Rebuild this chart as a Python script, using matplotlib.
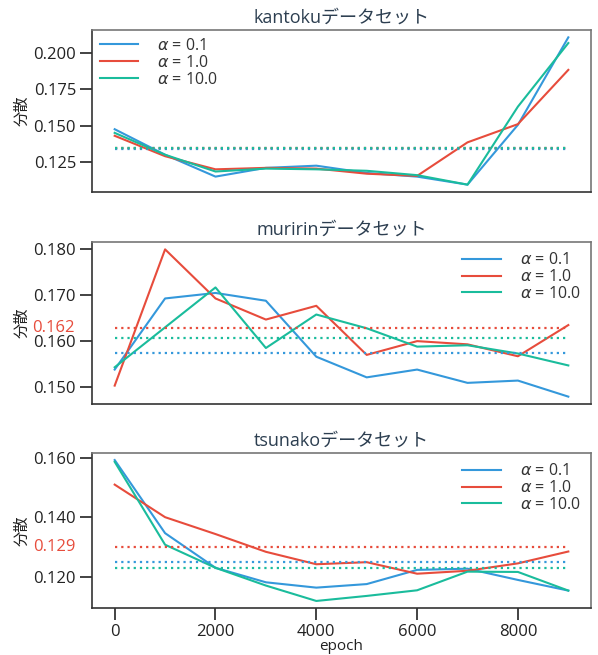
import math
import numpy as np
import matplotlib
matplotlib.use("Agg")
import matplotlib.pyplot as plt
import matplotlib.transforms as mtransforms

plt.rcParams['font.family'] = ['Open Sans', 'Noto Sans CJK JP', 'DejaVu Sans']

epochs = [0, 1000, 2000, 3000, 4000, 5000, 6000, 7000, 8000, 9000]
labels = [r"$\alpha$ = 0.1", r"$\alpha$ = 1.0", r"$\alpha$ = 10.0"]
titles = ["kantokuデータセット", "muririnデータセット", "tsunakoデータセット"]

kantoku_a01 = [0.1475, 0.1300, 0.1150, 0.1210, 0.1225, 0.1175, 0.1150, 0.1095, 0.1505, 0.2105]
kantoku_a1 = [0.1430, 0.1290, 0.1200, 0.1210, 0.1205, 0.1170, 0.1155, 0.1385, 0.1510, 0.1882]
kantoku_a10 = [0.1450, 0.1300, 0.1185, 0.1205, 0.1200, 0.1190, 0.1160, 0.1095, 0.1630, 0.2066]

muririn_a01 = [0.1538, 0.1693, 0.1705, 0.1688, 0.1566, 0.1521, 0.1538, 0.1509, 0.1514, 0.1479]
muririn_a1 = [0.1503, 0.1800, 0.1693, 0.1647, 0.1677, 0.1570, 0.1600, 0.1593, 0.1567, 0.1635]
muririn_a10 = [0.1543, 0.1630, 0.1717, 0.1585, 0.1658, 0.1628, 0.1588, 0.1591, 0.1573, 0.1547]

tsunako_a01 = [0.1594, 0.1347, 0.1230, 0.1181, 0.1163, 0.1175, 0.1223, 0.1227, 0.1189, 0.1153]
tsunako_a1 = [0.1511, 0.1401, 0.1344, 0.1284, 0.1242, 0.1249, 0.1210, 0.1220, 0.1245, 0.1285]
tsunako_a10 = [0.1588, 0.1308, 0.1230, 0.1170, 0.1118, 0.1135, 0.1154, 0.1217, 0.1216, 0.1153]

datasets = [
    [kantoku_a01, kantoku_a1, kantoku_a10],
    [muririn_a01, muririn_a1, muririn_a10],
    [tsunako_a01, tsunako_a1, tsunako_a10],
]
yticks = [
    [0.125, 0.150, 0.175, 0.200],
    [0.150, 0.160, 0.170, 0.180],
    [0.120, 0.140, 0.160],
]
legend_locs = ["upper left", "upper right", "upper right"]
show_red_mean = [False, True, True]

colors = ["#3498db", "#e74c3c", "#1abc9c"]
title_color = "#2c3e50"
text_color = "#222222"

W, H = 598, 655
fig = plt.figure(figsize=(W / 100, H / 100), dpi=100)
boxes = [(30, 192), (242, 404), (453, 608)]
left_px, right_px = 92, 591

axes = []
for i, (top, bot) in enumerate(boxes):
    ax = fig.add_axes([left_px / W, 1 - bot / H, (right_px - left_px) / W, (bot - top) / H])
    axes.append(ax)
    series = datasets[i]
    for s, c, lab in zip(series, colors, labels):
        ax.plot(epochs, s, color=c, lw=1.5, label=lab)
    for s, c in zip(series, colors):
        m = float(np.mean(s))
        ax.hlines(m, epochs[0], epochs[-1], colors=c, linestyles=(0, (1, 1.8)), lw=1.6)
    if show_red_mean[i]:
        m = float(np.mean(series[1]))
        trunc = math.floor(m * 1000) / 1000
        trans = mtransforms.blended_transform_factory(ax.transAxes, ax.transData)
        ax.text(-0.034, m, f"{trunc:.3f}", color=colors[1], ha="right", va="center",
                fontsize=12, transform=trans)
    ax.set_title(titles[i], color=title_color, fontsize=13, pad=5)
    ax.set_yticks(yticks[i])
    ax.set_yticklabels([f"{v:.3f}" for v in yticks[i]])
    ax.set_ylabel("分散", color=text_color, fontsize=11, labelpad=2)
    ax.set_xlim(-450, 9450)
    ax.tick_params(axis="both", length=8.5, width=1.2, labelsize=12, colors=text_color,
                   pad=3)
    for side in ["left", "bottom"]:
        ax.spines[side].set_color("#333333")
        ax.spines[side].set_linewidth(1.2)
    for side in ["top", "right"]:
        ax.spines[side].set_color("#777777")
        ax.spines[side].set_linewidth(1.2)
    leg = ax.legend(loc=legend_locs[i], frameon=False, fontsize=11.5, handlelength=2.4,
                    handletextpad=1.2, labelspacing=0.05,
                    borderaxespad=0.1 if i == 0 else 0.25)
    for t in leg.get_texts():
        t.set_color("#333333")
    if i < 2:
        ax.tick_params(axis="x", bottom=False, labelbottom=False)
    else:
        ax.set_xticks([0, 2000, 4000, 6000, 8000])
        ax.set_xlabel("epoch", color=text_color, fontsize=11)
        ax.xaxis.set_label_coords(0.5, -0.198)

fig.savefig("out.png", dpi=100)
